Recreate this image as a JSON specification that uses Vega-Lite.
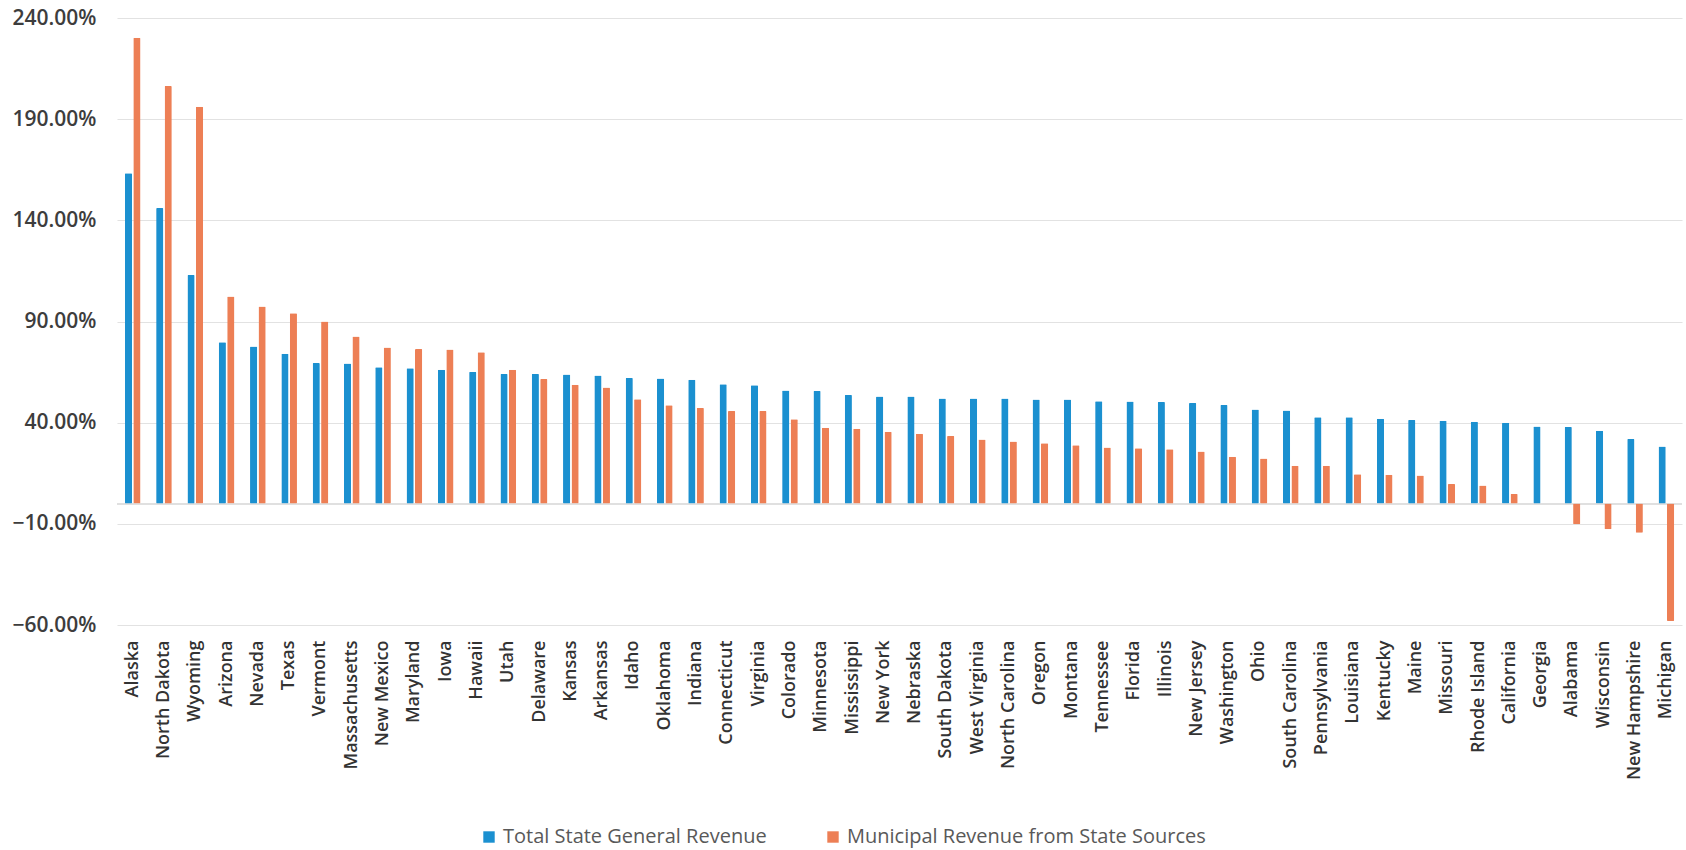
{
  "$schema": "https://vega.github.io/schema/vega-lite/v6.json",
  "autosize": {"type": "none"},
  "width": 1565,
  "height": 607,
  "padding": {"left": 117, "top": 18, "right": 4, "bottom": 225},
  "background": "#ffffff",
  "config": {
    "view": {"stroke": null},
    "font": "Open Sans"
  },
  "data": {
    "values": [
      {"state": "Alaska", "series": "Total State General Revenue", "value": 163.3},
      {"state": "Alaska", "series": "Municipal Revenue from State Sources", "value": 230.2},
      {"state": "North Dakota", "series": "Total State General Revenue", "value": 146.1},
      {"state": "North Dakota", "series": "Municipal Revenue from State Sources", "value": 206.4},
      {"state": "Wyoming", "series": "Total State General Revenue", "value": 113.0},
      {"state": "Wyoming", "series": "Municipal Revenue from State Sources", "value": 196.1},
      {"state": "Arizona", "series": "Total State General Revenue", "value": 79.7},
      {"state": "Arizona", "series": "Municipal Revenue from State Sources", "value": 102.3},
      {"state": "Nevada", "series": "Total State General Revenue", "value": 77.7},
      {"state": "Nevada", "series": "Municipal Revenue from State Sources", "value": 97.4},
      {"state": "Texas", "series": "Total State General Revenue", "value": 74.1},
      {"state": "Texas", "series": "Municipal Revenue from State Sources", "value": 94.1},
      {"state": "Vermont", "series": "Total State General Revenue", "value": 69.5},
      {"state": "Vermont", "series": "Municipal Revenue from State Sources", "value": 90.0},
      {"state": "Massachusetts", "series": "Total State General Revenue", "value": 69.2},
      {"state": "Massachusetts", "series": "Municipal Revenue from State Sources", "value": 82.6},
      {"state": "New Mexico", "series": "Total State General Revenue", "value": 67.4},
      {"state": "New Mexico", "series": "Municipal Revenue from State Sources", "value": 77.2},
      {"state": "Maryland", "series": "Total State General Revenue", "value": 66.9},
      {"state": "Maryland", "series": "Municipal Revenue from State Sources", "value": 76.4},
      {"state": "Iowa", "series": "Total State General Revenue", "value": 66.2},
      {"state": "Iowa", "series": "Municipal Revenue from State Sources", "value": 76.1},
      {"state": "Hawaii", "series": "Total State General Revenue", "value": 65.1},
      {"state": "Hawaii", "series": "Municipal Revenue from State Sources", "value": 74.8},
      {"state": "Utah", "series": "Total State General Revenue", "value": 64.1},
      {"state": "Utah", "series": "Municipal Revenue from State Sources", "value": 66.2},
      {"state": "Delaware", "series": "Total State General Revenue", "value": 64.1},
      {"state": "Delaware", "series": "Municipal Revenue from State Sources", "value": 61.6},
      {"state": "Kansas", "series": "Total State General Revenue", "value": 63.8},
      {"state": "Kansas", "series": "Municipal Revenue from State Sources", "value": 58.8},
      {"state": "Arkansas", "series": "Total State General Revenue", "value": 63.3},
      {"state": "Arkansas", "series": "Municipal Revenue from State Sources", "value": 57.4},
      {"state": "Idaho", "series": "Total State General Revenue", "value": 62.1},
      {"state": "Idaho", "series": "Municipal Revenue from State Sources", "value": 51.6},
      {"state": "Oklahoma", "series": "Total State General Revenue", "value": 61.8},
      {"state": "Oklahoma", "series": "Municipal Revenue from State Sources", "value": 48.6},
      {"state": "Indiana", "series": "Total State General Revenue", "value": 61.2},
      {"state": "Indiana", "series": "Municipal Revenue from State Sources", "value": 47.3},
      {"state": "Connecticut", "series": "Total State General Revenue", "value": 59.0},
      {"state": "Connecticut", "series": "Municipal Revenue from State Sources", "value": 45.8},
      {"state": "Virginia", "series": "Total State General Revenue", "value": 58.5},
      {"state": "Virginia", "series": "Municipal Revenue from State Sources", "value": 45.8},
      {"state": "Colorado", "series": "Total State General Revenue", "value": 55.9},
      {"state": "Colorado", "series": "Municipal Revenue from State Sources", "value": 41.7},
      {"state": "Minnesota", "series": "Total State General Revenue", "value": 55.7},
      {"state": "Minnesota", "series": "Municipal Revenue from State Sources", "value": 37.5},
      {"state": "Mississippi", "series": "Total State General Revenue", "value": 53.7},
      {"state": "Mississippi", "series": "Municipal Revenue from State Sources", "value": 37.0},
      {"state": "New York", "series": "Total State General Revenue", "value": 52.9},
      {"state": "New York", "series": "Municipal Revenue from State Sources", "value": 35.5},
      {"state": "Nebraska", "series": "Total State General Revenue", "value": 52.9},
      {"state": "Nebraska", "series": "Municipal Revenue from State Sources", "value": 34.5},
      {"state": "South Dakota", "series": "Total State General Revenue", "value": 51.9},
      {"state": "South Dakota", "series": "Municipal Revenue from State Sources", "value": 33.4},
      {"state": "West Virginia", "series": "Total State General Revenue", "value": 51.9},
      {"state": "West Virginia", "series": "Municipal Revenue from State Sources", "value": 31.7},
      {"state": "North Carolina", "series": "Total State General Revenue", "value": 51.9},
      {"state": "North Carolina", "series": "Municipal Revenue from State Sources", "value": 30.7},
      {"state": "Oregon", "series": "Total State General Revenue", "value": 51.4},
      {"state": "Oregon", "series": "Municipal Revenue from State Sources", "value": 29.8},
      {"state": "Montana", "series": "Total State General Revenue", "value": 51.4},
      {"state": "Montana", "series": "Municipal Revenue from State Sources", "value": 28.8},
      {"state": "Tennessee", "series": "Total State General Revenue", "value": 50.6},
      {"state": "Tennessee", "series": "Municipal Revenue from State Sources", "value": 27.7},
      {"state": "Florida", "series": "Total State General Revenue", "value": 50.5},
      {"state": "Florida", "series": "Municipal Revenue from State Sources", "value": 27.4},
      {"state": "Illinois", "series": "Total State General Revenue", "value": 50.2},
      {"state": "Illinois", "series": "Municipal Revenue from State Sources", "value": 26.9},
      {"state": "New Jersey", "series": "Total State General Revenue", "value": 49.7},
      {"state": "New Jersey", "series": "Municipal Revenue from State Sources", "value": 25.8},
      {"state": "Washington", "series": "Total State General Revenue", "value": 48.7},
      {"state": "Washington", "series": "Municipal Revenue from State Sources", "value": 23.1},
      {"state": "Ohio", "series": "Total State General Revenue", "value": 46.5},
      {"state": "Ohio", "series": "Municipal Revenue from State Sources", "value": 22.3},
      {"state": "South Carolina", "series": "Total State General Revenue", "value": 46.0},
      {"state": "South Carolina", "series": "Municipal Revenue from State Sources", "value": 18.7},
      {"state": "Pennsylvania", "series": "Total State General Revenue", "value": 42.7},
      {"state": "Pennsylvania", "series": "Municipal Revenue from State Sources", "value": 18.7},
      {"state": "Louisiana", "series": "Total State General Revenue", "value": 42.7},
      {"state": "Louisiana", "series": "Municipal Revenue from State Sources", "value": 14.5},
      {"state": "Kentucky", "series": "Total State General Revenue", "value": 41.9},
      {"state": "Kentucky", "series": "Municipal Revenue from State Sources", "value": 14.2},
      {"state": "Maine", "series": "Total State General Revenue", "value": 41.3},
      {"state": "Maine", "series": "Municipal Revenue from State Sources", "value": 13.9},
      {"state": "Missouri", "series": "Total State General Revenue", "value": 41.0},
      {"state": "Missouri", "series": "Municipal Revenue from State Sources", "value": 9.7},
      {"state": "Rhode Island", "series": "Total State General Revenue", "value": 40.5},
      {"state": "Rhode Island", "series": "Municipal Revenue from State Sources", "value": 9.0},
      {"state": "California", "series": "Total State General Revenue", "value": 40.0},
      {"state": "California", "series": "Municipal Revenue from State Sources", "value": 4.8},
      {"state": "Georgia", "series": "Total State General Revenue", "value": 38.1},
      {"state": "Georgia", "series": "Municipal Revenue from State Sources", "value": 0},
      {"state": "Alabama", "series": "Total State General Revenue", "value": 37.9},
      {"state": "Alabama", "series": "Municipal Revenue from State Sources", "value": -10.2},
      {"state": "Wisconsin", "series": "Total State General Revenue", "value": 36.0},
      {"state": "Wisconsin", "series": "Municipal Revenue from State Sources", "value": -12.7},
      {"state": "New Hampshire", "series": "Total State General Revenue", "value": 31.9},
      {"state": "New Hampshire", "series": "Municipal Revenue from State Sources", "value": -14.4},
      {"state": "Michigan", "series": "Total State General Revenue", "value": 28.2},
      {"state": "Michigan", "series": "Municipal Revenue from State Sources", "value": -58.0}
    ]
  },
  "encoding": {
    "x": {
      "field": "state",
      "type": "nominal",
      "sort": null,
      "scale": {"paddingInner": 0.5, "paddingOuter": 0.25},
      "axis": {
        "title": null,
        "labelAngle": -90,
        "labelPadding": 15,
        "labelFont": "Open Sans",
        "labelFontSize": 18,
        "labelFontWeight": 600,
        "labelColor": "#333333",
        "labelLimit": 400,
        "ticks": false,
        "domain": false,
        "grid": false
      }
    },
    "y": {
      "field": "value",
      "type": "quantitative",
      "scale": {"domain": [-60, 240], "nice": false, "zero": false},
      "axis": {
        "title": null,
        "values": [-60, -10, 40, 90, 140, 190, 240],
        "labelExpr": "format(datum.value, '.2f') + '%'",
        "labelFont": "Open Sans",
        "labelFontSize": 21,
        "labelFontWeight": 600,
        "labelColor": "#3d3d3d",
        "labelPadding": 21,
        "ticks": false,
        "domain": false,
        "grid": true,
        "gridColor": "#e2e2e2",
        "gridWidth": 1.2
      }
    }
  },
  "layer": [
    {
      "mark": {"type": "rule", "color": "#e0e0e0", "strokeWidth": 1},
      "encoding": {"y": {"datum": 0}, "x": null}
    },
    {
      "mark": {"type": "bar", "cornerRadius": 1},
      "encoding": {
        "xOffset": {
          "field": "series",
          "type": "nominal",
          "sort": ["Total State General Revenue", "Municipal Revenue from State Sources"],
          "scale": {"paddingInner": 0.15}
        },
        "color": {
          "field": "series",
          "type": "nominal",
          "sort": ["Total State General Revenue", "Municipal Revenue from State Sources"],
          "scale": {
            "domain": ["Total State General Revenue", "Municipal Revenue from State Sources"],
            "range": ["#1b90d0", "#ed7f55"]
          },
          "legend": {
            "title": null,
            "orient": "none",
            "direction": "horizontal",
            "legendX": 362,
            "legendY": 809,
            "symbolType": "square",
            "symbolSize": 130,
            "symbolStrokeWidth": 0,
            "labelFont": "Open Sans",
            "labelFontSize": 20,
            "labelColor": "#595959",
            "labelLimit": 600,
            "labelOffset": 4,
            "columnPadding": 56
          }
        }
      }
    }
  ]
}
